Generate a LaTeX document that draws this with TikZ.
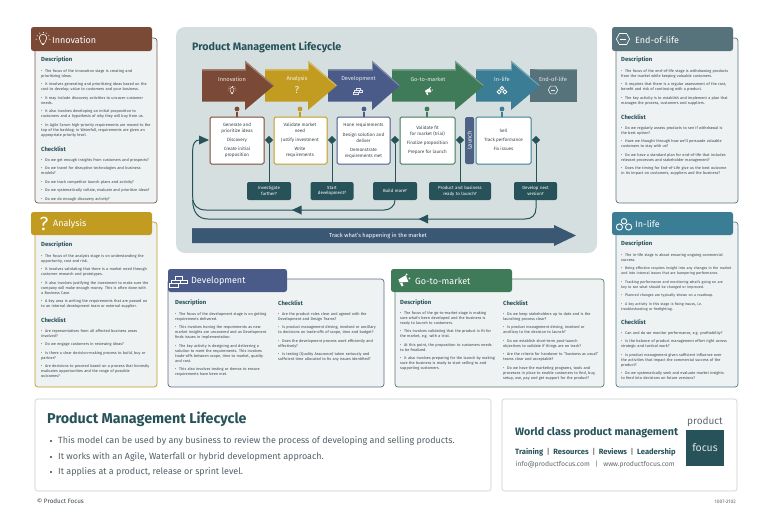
\documentclass[tikz,border=0pt]{standalone}
\usepackage{fontspec}
\setmainfont{Fira Sans}
\usetikzlibrary{shapes.geometric,arrows.meta,calc}
\definecolor{cinn}{HTML}{7B4A36}
\definecolor{cana}{HTML}{C19C21}
\definecolor{cdev}{HTML}{4A5B8A}
\definecolor{cgtm}{HTML}{3F7A59}
\definecolor{clif}{HTML}{3A7D94}
\definecolor{ceol}{HTML}{56727A}
\definecolor{dteal}{HTML}{27525A}
\definecolor{ink}{HTML}{36444A}
\definecolor{panelbg}{HTML}{EFF2F3}
\definecolor{mainbg}{HTML}{D5DFDF}
\definecolor{boxline}{HTML}{C9CFD2}
\newcommand\bi[1]{\par\hangindent=4pt\hangafter=1\noindent\makebox[4pt][l]{\textbullet}#1\par}
\newcommand\hd[1]{{\fontsize{5.9}{7}\selectfont\bfseries\color{dteal}#1}}
\tikzset{
  x=1pt,y=-1pt,
  hdr/.style={rounded corners=2.5pt,draw=none,fill=#1},
  body/.style={rounded corners=3pt,draw=#1,line width=.7pt,fill=panelbg},
  ptitle/.style={anchor=west,text=white,font=\fontsize{9}{10}\selectfont,inner sep=0pt},
  phead/.style={anchor=west,inner sep=0pt},
  ptext/.style={anchor=north west,inner sep=0pt,text width=#1,text=ink,yshift=3.8pt,
    font=\fontsize{3.85}{5}\selectfont\setlength{\parskip}{3.6pt}\setlength{\emergencystretch}{5pt}\raggedright},
  stage/.style={rounded corners=1.5pt,draw=#1,line width=1pt,fill=white},
  stagetxt/.style={inner sep=0pt,text=ink,font=\fontsize{4.6}{5}\selectfont},
  dec/.style={rounded corners=2pt,fill=dteal,inner sep=0pt,text=white,align=center,font=\fontsize{4.4}{6.2}\selectfont},
  dia/.style={diamond,fill=dteal,inner sep=0pt,minimum width=8.5pt,minimum height=8.5pt},
  dot/.style={circle,fill=#1,inner sep=0pt,minimum size=4.8pt},
  link/.style={draw=#1,line width=1.1pt},
  conn/.style={draw=dteal,line width=1pt},
  tip/.style={fill=dteal,draw=none},
  stagelbl/.style={text=#1,inner sep=0pt,font=\fontsize{5.7}{6}\selectfont},
  bulb/.pic={
    \draw[pic actions,line width=.55pt] (-1.8,1.6) .. controls (-3.6,-.4) and (-2.6,-3.4) .. (0,-3.4) .. controls (2.6,-3.4) and (3.6,-.4) .. (1.8,1.6) -- (1.2,3.2) -- (-1.2,3.2) -- cycle;
    \draw[pic actions,line width=.55pt] (-.9,4.1)--(.9,4.1);
    \foreach \a in {-60,-30,0,30,60}{\draw[pic actions,line width=.45pt] ({4.2*sin(\a)},{-4.2*cos(\a)})--({5.3*sin(\a)},{-5.3*cos(\a)});}
    \draw[pic actions,line width=.45pt] (-4.4,0)--(-5.4,.3) (4.4,0)--(5.4,.3);
  },
  bricks/.pic={
    \draw[pic actions,line width=.5pt] (-2,-3.5) rectangle (2.5,-.8) (-5,-.8) rectangle (1,1.8) (1,-.8) rectangle (6,1.8) (-6.5,1.8) rectangle (0,4.2);
  },
  megaph/.pic={
    \fill[pic actions] (-3,2.2)--(-4,-.4)--(2.5,-4.2)--(4.6,1.6)--cycle;
    \fill[pic actions] (-2.6,2.8)--(-.6,2.2)--(.4,5)--(-1.2,5.6)--cycle;
    \fill[pic actions] (3.2,-4.8) circle (.9) (5.6,-1.4) circle (.8);
  },
  links/.pic={
    \draw[pic actions,line width=.9pt] (0,-2) circle (2) (-3.4,2.2) circle (2.3) (3.4,2.2) circle (2.3);
  },
  hexa/.pic={
    \draw[pic actions,line width=.65pt] (-5.5,0)--(-3,-4.6)--(3,-4.6)--(5.5,0)--(3,4.6)--(-3,4.6)--cycle;
    \draw[pic actions,line width=.5pt] (-2.8,0)--(2.8,0);
  },
}
\begin{document}
\begin{tikzpicture}
\useasboundingbox[fill=white] (0,0) rectangle (768,530);
% --- Side panels
\path[body=cinn!70!gray] (35,38) rectangle (157,203);
\path[hdr=cinn] (31,27) rectangle (152,51);
\path[body=cana] (35,222) rectangle (157,387);
\path[hdr=cana] (31,212) rectangle (152,235);
\path[body=ceol!80!gray] (616,38) rectangle (738,203);
\path[hdr=ceol] (612,27) rectangle (733,51);
\path[body=clif!70!gray] (616,222) rectangle (738,387);
\path[hdr=clif] (612,212) rectangle (733,235);
\path[body=cdev!60!gray] (168,279) rectangle (384,387);
\path[hdr=cdev] (168,269) rectangle (287,292);
\path[body=cgtm!60!gray] (395,279) rectangle (604,387);
\path[hdr=cgtm] (391,269) rectangle (512,292);
% titles
\node[ptitle] (tInn) at (52,40) {Innovation};
\node[ptitle] (tAna) at (53,224) {Analysis};
\node[ptitle] (tEol) at (635,40) {End-of-life};
\node[ptitle] (tLif) at (635,224) {In-life};
\node[ptitle] (tDev) at (191,281) {Development};
\node[ptitle] (tGtm) at (415,281) {Go-to-market};
\pic[draw=white,scale=1.35] at (43,39) {bulb};
\node[text=white,inner sep=0pt,font=\fontsize{19}{20}\selectfont] (qA) at (44,224) {?};
\pic[draw=white,scale=1.2] at (623,39) {hexa};
\pic[draw=white,scale=1.35] at (624,224) {links};
\pic[draw=white,scale=1.45] at (178.5,281) {bricks};
\pic[fill=white,scale=1.15] at (403,280) {megaph};
% Innovation text
\node[phead] (h1) at (41,60) {\hd{Description}};
\node[ptext=116pt] (d1) at (41,67) {
\bi{The focus of the innovation stage is creating and\\prioritizing ideas.}
\bi{It involves generating and prioritizing ideas based on the\\cost to develop, value to customers and your business.}
\bi{It may include discovery activities to uncover customer\\needs.}
\bi{It also involves developing an initial proposition to\\customers and a hypothesis of why they will buy from us.}
\bi{In Agile Scrum high-priority requirements are moved to the\\top of the backlog; in Waterfall, requirements are given an\\appropriate priority level.}};
\node[phead] (h2) at (41,149) {\hd{Checklist}};
\node[ptext=116pt] (c1) at (41,156) {
\bi{Do we get enough insights from customers and prospects?}
\bi{Do we travel for disruptive technologies and business\\models?}
\bi{Do we track competitor launch plans and activity?}
\bi{Do we systematically collate, evaluate and prioritize ideas?}
\bi{Do we do enough discovery activity?}};
% Analysis text
\node[phead] (h3) at (41,245) {\hd{Description}};
\node[ptext=116pt] (d2) at (41,252) {
\bi{The focus of the analysis stage is on understanding the\\opportunity, cost and risk.}
\bi{It involves validating that there is a market need through\\customer research and prototypes.}
\bi{It also involves justifying the investment to make sure the\\company will make enough money. This is often done with\\a Business Case.}
\bi{A key area is writing the requirements that are passed on\\to an internal development team or external supplier.}};
\node[phead] (h4) at (41,320) {\hd{Checklist}};
\node[ptext=116pt] (c2) at (41,327) {
\bi{Are representatives from all affected business areas\\involved?}
\bi{Do we engage customers in reviewing ideas?}
\bi{Is there a clear decision-making process to build, buy or\\partner?}
\bi{Are decisions to proceed based on a process that honestly\\evaluates opportunities and the range of possible\\outcomes?}};
% End-of-life text
\node[phead] (h5) at (621,60) {\hd{Description}};
\node[ptext=120pt] (d3) at (621,67) {
\bi{The focus of the end-of-life stage is withdrawing products\\from the market while keeping valuable customers.}
\bi{It requires that there is a regular assessment of the cost,\\benefit and risk of continuing with a product.}
\bi{The key activity is to establish and implement a plan that\\manages the process, customers and suppliers.}};
\node[phead] (h6) at (621,117) {\hd{Checklist}};
\node[ptext=120pt] (c3) at (621,124) {
\bi{Do we regularly assess products to see if withdrawal is\\the best option?}
\bi{Have we thought through how we'll persuade valuable\\customers to stay with us?}
\bi{Do we have a standard plan for end-of-life that includes\\relevant processes and stakeholder management?}
\bi{Does the timing for End-of-Life give us the best outcome\\in its impact on customers, suppliers and the business?}};
% In-life text
\node[phead] (h7) at (621,244) {\hd{Description}};
\node[ptext=130pt] (d4) at (621,251) {
\bi{The in-life stage is about ensuring ongoing commercial\\success.}
\bi{\fontsize{3.65}{5}\selectfont Being effective requires insight into any changes in the market\\and into internal issues that are hampering performance.}
\bi{Tracking performance and monitoring what's going on are\\key to see what should be changed or improved.}
\bi{Planned changes are typically shown on a roadmap.}
\bi{A key activity in this stage is fixing issues, i.e.\\troubleshooting or firefighting.}};
\node[phead] (h8) at (621,322) {\hd{Checklist}};
\node[ptext=120pt] (c4) at (621,329) {
\bi{Can and do we monitor performance, e.g. profitability?}
\bi{Is the balance of product management effort right across\\strategic and tactical work?}
\bi{Is product management given sufficient influence over\\the activities that impact the commercial success of the\\product?}
\bi{Do we systematically seek and evaluate market insights\\to feed into decisions on future versions?}};
% Development text
\node[phead] (h9) at (175,303) {\hd{Description}};
\node[ptext=100pt] (d5) at (175,310) {
\bi{The focus of the development stage is on getting\\requirements delivered.}
\bi{This involves honing the requirements as new\\market insights are uncovered and as Development\\finds issues in implementation.}
\bi{The key activity is designing and delivering a\\solution to meet the requirements. This involves\\trade-offs between scope, time to market, quality\\and cost.}
\bi{This also involves testing or demos to ensure\\requirements have been met.}};
\node[phead] (h10) at (278,303) {\hd{Checklist}};
\node[ptext=104pt] (c5) at (278,310) {
\bi{Are the product roles clear and agreed with the\\Development and Design Teams?}
\bi{Is product management driving, involved or ancillary\\to decisions on trade-offs of scope, time and budget?}
\bi{Does the development process work efficiently and\\effectively?}
\bi{Is testing (Quality Assurance) taken seriously and\\sufficient time allocated to fix any issues identified?}};
% GTM text
\node[phead] (h11) at (400,303) {\hd{Description}};
\node[ptext=100pt] (d6) at (400,309) {
\bi{The focus of the go-to-market stage is making\\sure what's been developed and the business is\\ready to launch to customers.}
\bi{This involves validating that the product is fit for\\the market, e.g. with a trial.}
\bi{At this point, the proposition to customers needs\\to be finalized.}
\bi{It also involves preparing for the launch by making\\sure the business is ready to start selling to and\\supporting customers.}};
\node[phead] (h12) at (503,303) {\hd{Checklist}};
\node[ptext=100pt] (c6) at (503,310) {
\bi{Do we keep stakeholders up to date and is the\\launching process clear?}
\bi{Is product management driving, involved or\\ancillary to the decision to launch?}
\bi{Do we establish short-term post-launch\\objectives to validate if things are on track?}
\bi{Are the criteria for handover to ``business as usual''\\teams clear and acceptable?}
\bi{Do we have the marketing programs, tools and\\processes in place to enable customers to find, buy,\\setup, use, pay and get support for the product?}};
% --- Main panel
\fill[mainbg] (176,27) [rounded corners=9pt] rectangle (597,253);
\node[anchor=west,inner sep=0pt,text=dteal,font=\fontsize{10.7}{12}\selectfont\bfseries] (mt) at (192,47) {Product Management Lifecycle};
% Arrows (right to left so that left tips lie on top)
\fill[ceol] (530,69) rectangle (577,102);
\newcommand\stagearrow[5]{% x0, head x, tip x, colour, light
  \fill[#4] (#1,69.3)--(#2,69.3)--(#2,60.7)--(#3,85.5)--(#2,110)--(#2,101.7)--(#1,101.7)--cycle;
  \fill[#4!70!white] (#1,69.3)--(#2,69.3)--(#2,60.7)--(#3,85.5)--(#3-1.6,85.5)--(#2+.8,63)--(#2+.8,70.5)--(#1,70.5)--cycle;
}
\stagearrow{476}{511}{540}{clif}{}
\stagearrow{392}{455}{484}{cgtm}{}
\stagearrow{328}{372}{400}{cdev}{}
\stagearrow{265}{308}{337}{cana}{}
\stagearrow{202}{245}{274}{cinn}{}
\fill[ceol!70!white] (530,69) -- (577,69) -- (577,70.2) -- (538,70.2) -- (537,69.7) -- cycle;
\node[stagelbl=white!85!cinn] (l1) at (232,79) {Innovation};
\node[stagelbl=white!85!cana] (l2) at (297,79) {Analysis};
\node[stagelbl=white!85!cdev] (l3) at (358.5,79) {Development};
\node[stagelbl=white!85!cgtm] (l4) at (428,79) {Go-to-market};
\node[stagelbl=white!85!clif] (l5) at (502,79) {In-life};
\node[stagelbl=white!85!ceol] (l6) at (553,79) {End-of-life};
\pic[draw=white!85!cinn,scale=.8] at (232,90) {bulb};
\node[text=white!85!cana,inner sep=0pt,font=\fontsize{10}{11}\selectfont] (qB) at (297,90.5) {?};
\pic[draw=white!85!cdev,scale=.75] at (358,91) {bricks};
\pic[fill=white,scale=.75] at (428,91) {megaph};
\pic[draw=white,scale=.85] at (502,90) {links};
\pic[draw=white!85!ceol,scale=.85] at (553,90) {hexa};
% stage boxes
\node[dot=cinn] (p1) at (237,109) {};
\node[dot=cana] (p2) at (300,109) {};
\node[dot=cdev] (p3) at (364,109) {};
\node[dot=cgtm] (p4) at (427,109) {};
\node[dot=clif] (p5) at (502,109) {};
\path[stage=cinn] (210,117) rectangle (264,164);
\coordinate (b1) at (237,117);
\path[stage=cana] (274,117) rectangle (327,164);
\coordinate (b2) at (300,117);
\path[stage=cdev] (337,117) rectangle (390,164);
\coordinate (b3) at (364,117);
\path[stage=cgtm] (400,117) rectangle (455,164);
\coordinate (b4) at (427,117);
\path[stage=clif] (476,117) rectangle (531,164);
\coordinate (b5) at (502,117);
\draw[link=cinn] (p1)--(b1);
\draw[link=cana] (p2)--(b2);
\draw[link=cdev] (p3)--(b3);
\draw[link=cgtm] (p4)--(b4);
\draw[link=clif] (p5)--(b5);
\fill[rounded corners=1.5pt,fill=cdev!70!ceol] (465,117) rectangle (474,164);
\node[rotate=90,text=white,inner sep=0pt,font=\fontsize{5.8}{6}\selectfont] (launch) at (469.5,140.5) {Launch};
\foreach \n/\t/\xx/\yy in {a/Generate and/237/125,b/prioritize ideas/237/131,c/Discovery/237/140,d/Create initial/237/149,e/proposition/237/155,
 f/Validate market/300/125,g/need/300/131,h/Justify investment/300/140,i/Write/300/149,j/requirements/300/155,
 k/Hone requirements/363.5/125,l/Design solution and/363.5/135,m/deliver/363.5/141,n/Demonstrate/363.5/150,o/requirements met/363.5/156,
 p/Validate fit/427.5/128,q/for market (trial)/427.5/134,r/Finalize proposition/427.5/143,s/Prepare for launch/427.5/152,
 t/Sell/503.5/131,u/Track performance/503.5/140,v/Fix issues/503.5/149}
  {\node[stagetxt] (st\n) at (\xx,\yy) {\t};}
% decisions
\node[dec,text width=44pt,minimum height=18pt] (n1) at (269,191) {Investigate\\further?};
\node[dec,text width=43pt,minimum height=18pt] (n2) at (332,191) {Start\\[-1pt]development?};
\node[dec,text width=44pt,minimum height=18pt] (n3) at (395,191) {Build more?};
\node[dec,text width=62pt,minimum height=18pt] (n4) at (460,191) {Product and business\\ready to launch?};
\node[dec,text width=43pt,minimum height=18pt] (n5) at (535.5,191) {Develop next\\version?};
\node[dia] (q1) at (269,140) {};
\node[dia] (q2) at (332,140) {};
\node[dia] (q3) at (395,140) {};
\node[dia] (q4) at (460,140) {};
\node[dia] (q5) at (536,140) {};
\draw[conn] (q1)--(n1.north-|q1);
\draw[conn] (q2)--(n2.north-|q2);
\draw[conn] (q3)--(n3.north-|q3);
\draw[conn] (q4)--(n4.north-|q4);
\draw[conn] (q5)--(n5.north-|q5);
\coordinate (inA) at (199,140);
\draw[conn] (n3.south) .. controls (395,206) and (390,210) .. (384,210) -- (206,210) .. controls (197,210) and (192.7,205) .. (192.7,197) -- (192.7,150) .. controls (192.7,144) and (195,140) .. (inA);
\draw[conn] (n5.south-|q5) -- (536,208) .. controls (536,215) and (532,219) .. (525,219) -- (208,219) .. controls (198,219) and (192.7,212) .. (192.7,200);
\fill[tip] (199,135.5)--(209,140)--(199,144.5)--cycle;
\fill[tip] (301.5,205.5)--(292,210)--(301.5,214.5)--cycle;
\fill[tip] (428,214.5)--(418.5,219)--(428,223.5)--cycle;
% track bar
\fill[cdev!55!dteal] (192,228) rectangle (554,243) (554,225)--(576,235.5)--(554,246)--cycle;
\fill[cdev!35!ceol] (192,228) rectangle (554,229.2);
\node[text=white,inner sep=0pt,font=\fontsize{5.75}{6}\selectfont] (track) at (378,235.7) {Track what's happening in the market};
% --- Footer boxes
\draw[boxline,line width=.6pt,rounded corners=2.5pt] (35,399) rectangle (491,491);
\draw[boxline,line width=.6pt,rounded corners=2.5pt] (502,399) rectangle (737,491);
\node[anchor=west,inner sep=0pt,text=dteal,font=\fontsize{14.3}{16}\selectfont\bfseries] (ft) at (47,419) {Product Management Lifecycle};
\foreach \n/\yy/\t in {1/441/This model can be used by any business to review the process of developing and selling products.,2/457/It works with an Agile{,} Waterfall or hybrid development approach.,3/472/It applies at a product{,} release or sprint level.}{
  \fill[ink] (51,\yy) circle (1.1);
  \node[anchor=west,inner sep=0pt,text=ink!85!white,font=\fontsize{8.95}{11}\selectfont] (fb\n) at (58,\yy) {\t};
}
\node[anchor=west,inner sep=0pt,text=ink,font=\fontsize{6.3}{7}\selectfont] (copy) at (37,501) {© Product Focus};
\node[anchor=east,inner sep=0pt,text=ink!80!white,font=\fontsize{5}{6}\selectfont] (code) at (736,501.5) {1007-2102};
\node[anchor=west,inner sep=0pt,text=dteal,font=\fontsize{10.7}{13}\selectfont\bfseries] (wc) at (515,433) {World class product management};
\node[anchor=west,inner sep=0pt,text=dteal,font=\fontsize{7.6}{9}\selectfont\bfseries] (tr) at (515,452) {Training\ \ \textcolor{gray}{|}\ \ Resources\ \ \textcolor{gray}{|}\ \ Reviews\ \ \textcolor{gray}{|}\ \ Leadership};
\node[anchor=west,inner sep=0pt,text=ink!80!white,font=\fontsize{6.8}{8}\selectfont] (ml) at (515.5,464) {info@productfocus.com\ \ \ |\ \ \ www.productfocus.com};
\node[inner sep=0pt,text=ink!80!white,font=\fontsize{10}{12}\selectfont] (lg1) at (705,421.5) {product};
\node[minimum width=38pt,minimum height=36pt,inner sep=0pt,fill=dteal,text=white!85!dteal,font=\fontsize{10.5}{12}\selectfont] (lg2) at (705,448) {focus};
\end{tikzpicture}
\end{document}
